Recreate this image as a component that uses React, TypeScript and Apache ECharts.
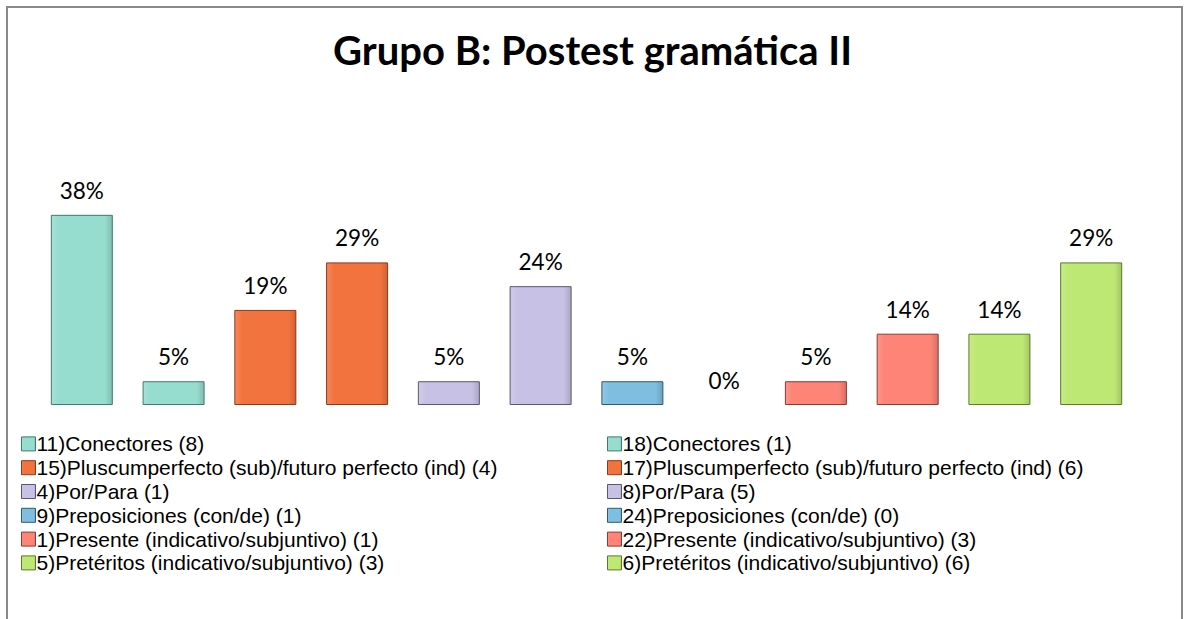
import React, { useEffect, useRef } from "react";
import * as echarts from "echarts";

const titleText = "Grupo B: Postest gramática II";
const seriesNames = [
  "11)Conectores (8)",
  "18)Conectores (1)",
  "15)Pluscumperfecto (sub)/futuro perfecto (ind) (4)",
  "17)Pluscumperfecto (sub)/futuro perfecto (ind) (6)",
  "4)Por/Para (1)",
  "8)Por/Para (5)",
  "9)Preposiciones (con/de) (1)",
  "24)Preposiciones (con/de) (0)",
  "1)Presente (indicativo/subjuntivo) (1)",
  "22)Presente (indicativo/subjuntivo) (3)",
  "5)Pretéritos (indicativo/subjuntivo) (3)",
  "6)Pretéritos (indicativo/subjuntivo) (6)",
];
const seriesValues = [38.1, 4.76, 19.05, 28.57, 4.76, 23.81, 4.76, 0, 4.76, 14.29, 14.29, 28.57];
const seriesColors = [
  "#96DDCF", "#96DDCF",
  "#F3733F", "#F3733F",
  "#C7C2E5", "#C7C2E5",
  "#7FBEDF", "#7FBEDF",
  "#FD8477", "#FD8477",
  "#BEE874", "#BEE874",
];
const edgeColors = [
  "#3F7A6E", "#3F7A6E",
  "#8A3A18", "#8A3A18",
  "#5A5670", "#5A5670",
  "#2F5A74", "#2F5A74",
  "#8A3A33", "#8A3A33",
  "#5C7A2A", "#5C7A2A",
];
const categories = [""];

const FONT = "Lato, 'Open Sans', sans-serif";
const LEGEND_FONT = "'Liberation Sans', Arial, sans-serif";

function lighten(hex: string, amt: number) {
  const n = parseInt(hex.slice(1), 16);
  let r = (n >> 16) & 255, g = (n >> 8) & 255, b = n & 255;
  r = Math.round(r + (255 - r) * amt);
  g = Math.round(g + (255 - g) * amt);
  b = Math.round(b + (255 - b) * amt);
  return `rgb(${r},${g},${b})`;
}
function darken(hex: string, amt: number) {
  const n = parseInt(hex.slice(1), 16);
  let r = (n >> 16) & 255, g = (n >> 8) & 255, b = n & 255;
  r = Math.round(r * (1 - amt));
  g = Math.round(g * (1 - amt));
  b = Math.round(b * (1 - amt));
  return `rgb(${r},${g},${b})`;
}

export default function App() {
  const ref = useRef<HTMLDivElement>(null);
  useEffect(() => {
    if (!ref.current) return;
    const chart = echarts.init(ref.current, null, { renderer: "svg" });
    const series = seriesNames.map((name, i) => ({
      name,
      type: "bar",
      data: [seriesValues[i]],
      barWidth: 62,
      barGap: "48%",
      itemStyle: {
        color: {
          type: "linear", x: 0, y: 0, x2: 1, y2: 0,
          colorStops: [
            { offset: 0, color: lighten(seriesColors[i], 0.15) },
            { offset: 0.12, color: seriesColors[i] },
            { offset: 0.88, color: seriesColors[i] },
            { offset: 1, color: darken(seriesColors[i], 0.15) },
          ],
        },
        borderColor: edgeColors[i],
        borderWidth: seriesValues[i] === 0 ? 0 : 1,
      },
      label: {
        show: true,
        position: "top",
        distance: 13,
        fontFamily: FONT,
        fontSize: 22.5,
        color: "#000",
        formatter: (p: any) => `${Math.round(p.value)}%`,
      },
    }));
    const legendBase = {
      orient: "vertical",
      itemWidth: 14,
      itemHeight: 14,
      itemGap: 0,
      icon: "rect",
      itemStyle: { borderWidth: 1 },
      textStyle: {
        fontFamily: LEGEND_FONT,
        fontSize: 21,
        lineHeight: 23.8,
        color: "#000",
        padding: [0, 0, 0, -4],
      },
      selectedMode: false,
    };
    chart.setOption({
      animation: false,
      backgroundColor: "#fff",
      title: {
        text: titleText,
        left: "center",
        top: 25,
        textStyle: { fontFamily: FONT, fontSize: 40, fontWeight: "bold", color: "#000" },
      },
      graphic: [
        {
          type: "rect",
          shape: { x: 7, y: 7, width: 1175, height: 640 },
          style: { fill: "none", stroke: "#898989", lineWidth: 2 },
          silent: true,
        },
      ],
      legend: [
        {
          ...legendBase,
          left: 16,
          top: 427,
          data: seriesNames.filter((_, i) => i % 2 === 0),
        },
        {
          ...legendBase,
          left: 602,
          top: 427,
          data: seriesNames.filter((_, i) => i % 2 === 1),
        },
      ],
      grid: { left: 30, right: 42, top: 120, bottom: 214 },
      xAxis: {
        type: "category",
        data: categories,
        axisLine: { show: false },
        axisTick: { show: false },
        axisLabel: { show: false },
      },
      yAxis: {
        type: "value",
        min: 0,
        max: 57.1,
        show: false,
        splitLine: { show: false },
      },
      series,
    });
    return () => chart.dispose();
  }, []);
  return (
    <div
      ref={ref}
      style={{ position: "fixed", left: 0, top: 0, width: 1185, height: 619 }}
    />
  );
}
